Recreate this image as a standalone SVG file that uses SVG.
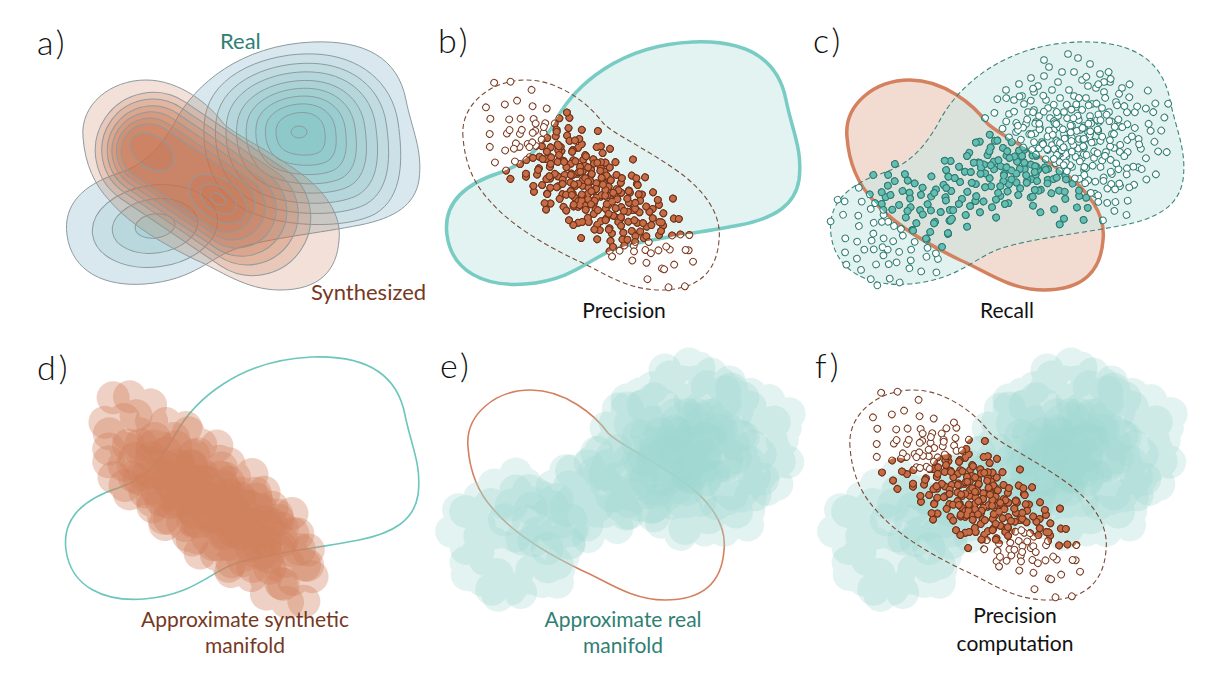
<svg xmlns="http://www.w3.org/2000/svg" width="1214" height="682" viewBox="0 0 1214 682">
<style>
.pt{fill:none;stroke-linecap:round}
.o{stroke:currentColor;stroke-width:7.6}
.i{stroke-width:5.6}
.rc{stroke:#8d9b9f;stroke-width:1}
.sc{fill:#c8704d;fill-opacity:.22;stroke:#8d9b9f;stroke-width:1}
text{font-family:Lato,"DejaVu Sans",sans-serif;font-weight:400}
.pl{font-size:34px;fill:#111;letter-spacing:3px;font-weight:300}
.cap{font-size:21px;fill:#111;text-anchor:middle}
.tl{fill:#2f8074}
.br{fill:#76391f}
.dS{fill:none;stroke:#7b4a36;stroke-width:1.1;stroke-dasharray:5 3}
.dR{stroke:#3a857a;stroke-width:1.1;stroke-dasharray:5 3}
</style>
<defs>
<path id="REAL" d="M693,42 C745,40 778,58 786,100 C792,130 803,150 799,180 C795,205 775,218 740,225 C700,233 650,238 618,248 C590,257 575,280 525,284 C485,287 452,272 447,235 C443,205 462,185 499,173 C530,163 545,140 556,120 C575,85 620,45 693,42 Z"/>
<path id="SYN" d="M463,137 C460,105 490,80 526,80 C560,80 590,105 603,123 C615,135 640,145 676,170 C705,190 722,215 719,240 C717,270 700,290 660,290 C625,290 600,270 576,260 C545,245 510,225 489,200 C475,185 465,165 463,137 Z"/>
<path id="B" vector-effect="non-scaling-stroke" d="M-95,-15 C-88,-60 -30,-80 15,-78 C60,-76 92,-50 98,-10 C103,25 104,65 75,82 C45,98 -25,96 -60,75 C-88,58 -100,20 -95,-15 Z"/>
<path id="E1" class="pt" d="M-105 -20h.01M-88 12h.01M-76 -18h.01M-66 15h.01M-58 30h.01M-50 20h.01M-43 12h.01M-36 -6h.01M-30 6h.01M-24 -10h.01M-18 -24h.01M-12 18h.01M-6 -30h.01M0 22h.01M6 30h.01M12 -6h.01M18 4h.01M24 -2h.01M30 8h.01M36 -8h.01M42 2h.01M50 10h.01M58 18h.01M67 -6h.01M76 22h.01M88 -18h.01M102 14h.01M-44 -3h.01M-19 14h.01M5 17h.01M27 3h.01M-48 19h.01M15 9h.01M-23 -33h.01M-15 -17h.01"/>
<path id="E2" class="pt" d="M-98 5h.01M-84 -8h.01M-72 2h.01M-63 -5h.01M-55 8h.01M-47 -28h.01M-40 -15h.01M-34 22h.01M-28 -36h.01M-22 2h.01M-16 10h.01M-10 -14h.01M-4 6h.01M2 -18h.01M8 -38h.01M14 20h.01M20 -12h.01M26 16h.01M32 -16h.01M38 14h.01M45 24h.01M53 -34h.01M61 -20h.01M70 12h.01M80 -10h.01M92 26h.01M108 -24h.01M-35 9h.01M-11 -1h.01M11 -11h.01M35 21h.01M-31 -27h.01M31 -9h.01M1 -13h.01M47 15h.01"/>
<path id="E3" class="pt" d="M-92 -30h.01M-80 25h.01M-70 -35h.01M-60 -22h.01M-52 -12h.01M-45 0h.01M-38 33h.01M-32 -20h.01M-26 16h.01M-20 26h.01M-14 -4h.01M-8 38h.01M-2 -8h.01M4 0h.01M10 12h.01M16 -24h.01M22 28h.01M28 -30h.01M34 36h.01M40 -22h.01M48 -12h.01M56 0h.01M64 30h.01M73 -26h.01M84 6h.01M97 -4h.01M115 4h.01M-27 -16h.01M-3 -21h.01M19 -27h.01M43 -5h.01M-7 27h.01M39 31h.01M23 11h.01M-39 -11h.01"/>
<path id="F1" class="pt" d="M0 0h.01M-8 10h.01M-18 -12h.01M-25 4h.01M-6 -30h.01M-30 -20h.01M-12 33h.01M-38 12h.01M2 40h.01M30 30h.01M10 -40h.01M45 0h.01M18 46h.01M48 22h.01M36 -38h.01M52 -10h.01M26 -48h.01M8 55h.01M-40 38h.01M-20 -52h.01M-10 18h.01M-16 -4h.01M-4 -14h.01M-26 -26h.01M-34 22h.01M-12 -22h.01M-24 16h.01M-2 -40h.01M38 -4h.01M-30 -2h.01M46 -30h.01M30 46h.01M58 -24h.01M20 58h.01M50 36h.01M-14 6h.01M-6 4h.01M-20 -36h.01M-42 -16h.01M-28 10h.01"/>
<path id="F2" class="pt" d="M12 -5h.01M20 14h.01M5 -22h.01M28 -8h.01M15 27h.01M35 10h.01M24 -26h.01M40 -20h.01M-22 30h.01M-40 -8h.01M-33 -34h.01M-15 -45h.01M-48 20h.01M-5 50h.01M-45 -28h.01M-28 44h.01M-55 2h.01M42 40h.01M55 14h.01M14 -54h.01M8 14h.01M22 -14h.01M14 6h.01M32 -24h.01M6 26h.01M26 4h.01M18 -32h.01M-36 0h.01M12 36h.01M0 22h.01M-50 -12h.01M-44 44h.01M-58 -22h.01M-26 58h.01M4 -58h.01M10 -16h.01M24 20h.01M34 18h.01M16 18h.01M40 -30h.01"/>
<g id="Ed"><use href="#E1" class="o"/><use href="#E1" class="i"/><use href="#E2" class="o"/><use href="#E2" class="i"/><use href="#E3" class="o"/><use href="#E3" class="i"/></g>
<g id="Fd"><use href="#F1" class="o"/><use href="#F1" class="i"/><use href="#F2" class="o"/><use href="#F2" class="i"/></g>
<g id="Eb"><use href="#E1"/><use href="#E2"/><use href="#E3"/></g>
<g id="Fb"><use href="#F1"/><use href="#F2"/></g>
<g id="Sd"><use href="#Ed" transform="translate(570,158) rotate(34)"/><use href="#Ed" transform="translate(609,211) rotate(214)"/><use href="#Ed" transform="translate(588,189) rotate(34) scale(1,-1)"/></g>
<g id="Sb"><use href="#Eb" transform="translate(570,158) rotate(34)"/><use href="#Eb" transform="translate(609,211) rotate(214)"/><use href="#Eb" transform="translate(588,189) rotate(34) scale(1,-1)"/></g>
<g id="Rd"><use href="#Fd" transform="translate(680,112)"/><use href="#Fd" transform="translate(730,134) rotate(130)"/><use href="#Fd" transform="translate(702,168) rotate(250) scale(1,-1)"/><use href="#Fd" transform="translate(648,150) rotate(200)"/><use href="#Fd" transform="translate(510,226) rotate(70)"/><use href="#Ed" transform="translate(602,180) rotate(-27)"/></g>
<g id="Rb"><use href="#Fb" transform="translate(680,112)"/><use href="#Fb" transform="translate(730,134) rotate(130)"/><use href="#Fb" transform="translate(702,168) rotate(250) scale(1,-1)"/><use href="#Fb" transform="translate(648,150) rotate(200)"/><use href="#Fb" transform="translate(510,226) rotate(70)"/><use href="#Eb" transform="translate(602,180) rotate(-27)"/></g>
<clipPath id="cR"><use href="#REAL"/></clipPath>
<clipPath id="cS"><use href="#SYN"/></clipPath>
<mask id="mR" maskUnits="userSpaceOnUse" x="-500" y="-500" width="2500" height="2000"><use href="#Rb" stroke="#fff" stroke-width="33"/></mask>
</defs>

<g id="panel-a">
<use href="#REAL" transform="translate(-380,0)" class="rc" fill="#d8e8ee"/>
<g transform="rotate(-8 155 226)">
<ellipse cx="155" cy="226" rx="63" ry="41" class="rc" fill="#c8dfe5"/>
<ellipse cx="155" cy="226" rx="43" ry="27" class="rc" fill="#b8d8dd"/>
<ellipse cx="155" cy="226" rx="20" ry="12" class="rc" fill="#a9d4d8"/>
</g>
<use href="#B" transform="translate(300,132)" class="rc" fill="#cbe1e7"/>
<use href="#B" transform="translate(300,132) scale(.88)" class="rc" fill="#c0dce1"/>
<use href="#B" transform="translate(300,132) scale(.77)" class="rc" fill="#b5d7dc"/>
<use href="#B" transform="translate(300,132) scale(.66)" class="rc" fill="#abd3d7"/>
<use href="#B" transform="translate(300,132) scale(.56)" class="rc" fill="#a2d0d2"/>
<use href="#B" transform="translate(300,132) scale(.46)" class="rc" fill="#9acdcf"/>
<use href="#B" transform="translate(300,132) scale(.36)" class="rc" fill="#93cbcc"/>
<use href="#B" transform="translate(300,132) scale(.25)" class="rc" fill="#8ec9c9"/>
<ellipse cx="299" cy="132" rx="8" ry="6" class="rc" fill="#8ac7c7"/>
<use href="#SYN" transform="translate(-380,0)" class="sc"/>
<rect transform="translate(203,184) rotate(34)" x="-118" y="-58" width="236" height="116" rx="58" class="sc"/>
<rect transform="translate(200,182) rotate(34)" x="-108" y="-51" width="216" height="102" rx="51" class="sc"/>
<rect transform="translate(197,181) rotate(34)" x="-99" y="-45" width="198" height="90" rx="45" class="sc"/>
<rect transform="translate(194,180) rotate(34)" x="-91" y="-39" width="182" height="78" rx="39" class="sc"/>
<rect transform="translate(191,179) rotate(34)" x="-83" y="-33" width="166" height="66" rx="33" class="sc"/>
<rect transform="translate(188,178) rotate(34)" x="-75" y="-28" width="150" height="56" rx="28" class="sc"/>
<ellipse transform="rotate(34 152 152)" cx="152" cy="152" rx="24" ry="16" class="sc"/>
<ellipse transform="rotate(34 218 199)" cx="218" cy="199" rx="32" ry="20" class="sc"/>
<ellipse transform="rotate(34 218 199)" cx="218" cy="199" rx="20" ry="12" class="sc"/>
<ellipse transform="rotate(34 218 199)" cx="218" cy="199" rx="8" ry="5" class="sc"/>
<text x="37" y="55" class="pl">a)</text>
<text x="220" y="49" class="tl" font-size="22">Real</text>
<text x="311" y="300" class="br" font-size="22">Synthesized</text>
</g>

<g id="panel-b">
<use href="#REAL" fill="#e3f3f2" stroke="#79ccc3" stroke-width="3.5"/>
<use href="#SYN" class="dS"/>
<use href="#Sd" color="#7a3a20" stroke="#fff"/>
<g clip-path="url(#cR)"><use href="#Sd" color="#6e3118" stroke="#c66d47"/></g>
<text x="438" y="53" class="pl">b)</text>
<text x="624" y="318" class="cap">Precision</text>
</g>

<g id="panel-c">
<g transform="translate(384,0)">
<use href="#SYN" fill="#f2dbd1"/>
<use href="#REAL" fill="#c8e8e4" fill-opacity=".55"/>
<use href="#SYN" fill="none" stroke="#d4815f" stroke-width="3.5"/>
<use href="#REAL" fill="none" class="dR"/>
<use href="#Rd" color="#2d7c72" stroke="#fff"/>
<g clip-path="url(#cS)"><use href="#Rd" color="#2d7c72" stroke="#66bdb2"/></g>
</g>
<text x="813" y="53" class="pl">c)</text>
<text x="1007" y="318" class="cap">Recall</text>
</g>

<g id="panel-d">
<g transform="translate(-381,315)">
<use href="#REAL" fill="none" stroke="#6cc6bc" stroke-width="1.6"/>
<use href="#Sb" stroke="#d07f5c" stroke-width="33" stroke-opacity=".36"/>
</g>
<text x="37" y="380" class="pl">d)</text>
<text x="245" y="627" class="cap br">Approximate synthetic</text>
<text x="245" y="653" class="cap br">manifold</text>
</g>

<g id="panel-e">
<g transform="translate(5,310)">
<use href="#SYN" fill="none" stroke="#d4805e" stroke-width="1.6"/>
<use href="#Rb" stroke="#9fd8d1" stroke-width="33" stroke-opacity=".3"/>
</g>
<text x="440" y="378" class="pl">e)</text>
<text x="623" y="627" class="cap tl">Approximate real</text>
<text x="623" y="653" class="cap tl">manifold</text>
</g>

<g id="panel-f">
<g transform="translate(387,310)">
<use href="#Rb" stroke="#9fd8d1" stroke-width="33" stroke-opacity=".3"/>
<use href="#SYN" class="dS"/>
<use href="#Sd" color="#7a3a20" stroke="#fff"/>
<g mask="url(#mR)"><use href="#Sd" color="#6e3118" stroke="#c66d47"/></g>
</g>
<text x="815" y="378" class="pl">f)</text>
<text x="1015" y="623" class="cap">Precision</text>
<text x="1015" y="651" class="cap">computation</text>
</g>
</svg>
